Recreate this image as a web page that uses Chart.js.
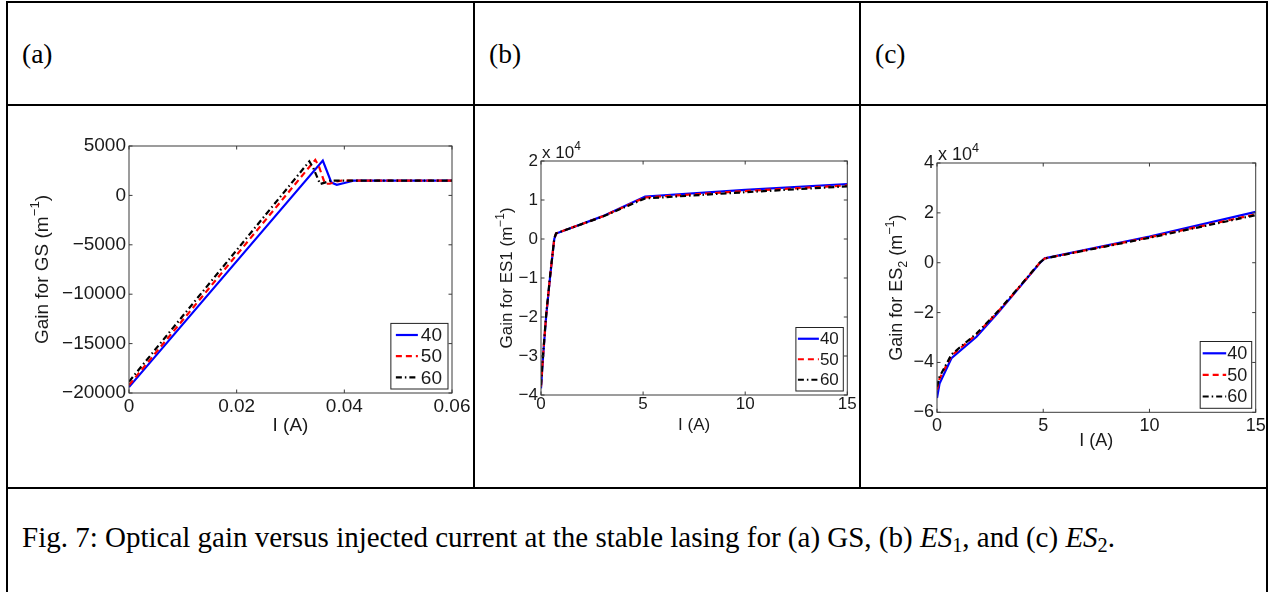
<!DOCTYPE html>
<html>
<head>
<meta charset="utf-8">
<script src="https://cdn.jsdelivr.net/npm/chart.js@4.4.1/dist/chart.umd.min.js"></script>
<style>
  html, body { margin: 0; padding: 0; background: #fff; }
  body { width: 1273px; height: 592px; position: relative; overflow: hidden;
         font-family: "Liberation Serif", "Times New Roman", serif; color: #000; }
  .ln { position: absolute; background: #000; }
  .lbl { position: absolute; font-size: 27.5px; line-height: 27.5px; white-space: nowrap; }
  .cap { font-size: 29px; line-height: 29px; }
  .lbl sub { font-size: 0.7em; vertical-align: -0.25em; line-height: 0; }
  canvas { position: absolute; }
</style>
</head>
<body>
<!-- table rules -->
<div class="ln" style="left:6px;top:1px;width:1262px;height:2px"></div>
<div class="ln" style="left:6px;top:1px;width:2px;height:591px"></div>
<div class="ln" style="left:1266px;top:1px;width:2px;height:591px"></div>
<div class="ln" style="left:6px;top:104px;width:1262px;height:2px"></div>
<div class="ln" style="left:6px;top:487px;width:1262px;height:2px"></div>
<div class="ln" style="left:473px;top:1px;width:2px;height:488px"></div>
<div class="ln" style="left:859px;top:1px;width:2px;height:488px"></div>

<div class="lbl" style="left:22px;top:40px">(a)</div>
<div class="lbl" style="left:489px;top:40px">(b)</div>
<div class="lbl" style="left:875px;top:40px">(c)</div>

<canvas id="chartA" width="463" height="379" style="left:9px;top:107px;width:463px;height:379px"></canvas>
<canvas id="chartB" width="384" height="379" style="left:475px;top:107px;width:384px;height:379px"></canvas>
<canvas id="chartC" width="405" height="379" style="left:861px;top:107px;width:405px;height:379px"></canvas>

<div class="lbl cap" style="left:22px;top:523px">Fig. 7: Optical gain versus injected current at the stable lasing for (a) GS, (b) <i>ES</i><sub>1</sub>, and (c) <i>ES</i><sub>2</sub>.</div>

<script>
'use strict';

// series legend labels and line styles (MATLAB b-, r--, k-.)
const seriesLabels = ['40', '50', '60'];
const lineColors = ['#0000ff', '#ff0000', '#000000'];
const lineDashes = [[], [6, 4], [6, 3, 1.5, 3]];

// (a) gain for GS vs current (A), m^-1
const gsI40 = [0, 0.0360, 0.0376, 0.0386, 0.0400, 0.0417, 0.060];
const gsG40 = [-19400, 3530, 1300, 1080, 1250, 1500, 1500];
const gsI50 = [0, 0.0346, 0.0353, 0.0364, 0.0373, 0.0385, 0.0395, 0.060];
const gsG50 = [-19200, 3600, 2900, 1180, 1180, 1400, 1500, 1500];
const gsI60 = [0, 0.0335, 0.0342, 0.0355, 0.0367, 0.0375, 0.060];
const gsG60 = [-18850, 3450, 2800, 1150, 1350, 1500, 1500];

// (b) gain for ES1
const es1I = [0, 0.1, 0.25, 0.44, 0.65, 0.74, 3, 5.1, 10, 15];
const es1G40 = [-38300, -30300, -20000, -10000, 0, 1400, 5800, 10900, 12600, 14100];
const es1G50 = [-37800, -30000, -19800, -9800, 100, 1450, 5750, 10650, 12300, 13750];
const es1G60 = [-37500, -29700, -19600, -9700, 150, 1450, 5700, 10400, 12000, 13500];

// (c) gain for ES2
const es2I = [0, 0.12, 0.68, 1.86, 2.88, 3.87, 4.85, 5.07, 10, 15];
const es2G40 = [-54300, -48500, -38300, -29700, -20000, -10000, 0, 1750, 10500, 20400];
const es2G50 = [-51000, -46500, -37300, -28700, -19600, -9800, 100, 1700, 10200, 19400];
const es2G60 = [-49700, -45800, -36800, -28400, -19400, -9700, 150, 1700, 10000, 19100];

// tick values
const gsXTicks = [0, 0.02, 0.04, 0.06];
const gsYTicks = [-20000, -15000, -10000, -5000, 0, 5000];
const esXTicks = [0, 5, 10, 15];
const es1YTicks = [-40000, -30000, -20000, -10000, 0, 10000, 20000];
const es2YTicks = [-60000, -40000, -20000, 0, 20000, 40000];

const axisFont = '"Liberation Sans", Arial, Helvetica, sans-serif';
const textColor = '#1a1a1a';

Chart.defaults.font.family = axisFont;
Chart.defaults.color = textColor;

function minus(v) {
    return v < 0 ? '\u2212' + Math.abs(v) : String(v);
}

function setFont(ctx, size) {
    ctx.font = size + 'px ' + axisFont;
}

function richWidth(ctx, parts, size) {
    let w = 0;
    parts.forEach(p => {
        setFont(ctx, (p.sup || p.sub) ? size * 0.7 : size);
        w += ctx.measureText(p.t).width;
    });
    return w;
}

function drawRich(ctx, parts, x, baseline, size) {
    parts.forEach(p => {
        const s = (p.sup || p.sub) ? size * 0.7 : size;
        const dy = p.sup ? -size * 0.45 : (p.sub ? size * 0.25 : 0);
        setFont(ctx, s);
        ctx.fillText(p.t, x, baseline + dy);
        x += ctx.measureText(p.t).width;
    });
}

// MATLAB style box, inner ticks, titles and legend
const matlabLook = {
    id: 'matlabLook',
    afterDatasetsDraw(chart, args, o) {
        const {ctx, chartArea: a} = chart;
        const xs = chart.scales.x;
        const ys = chart.scales.y;
        const tl = o.tickLen;
        ctx.save();
        ctx.strokeStyle = '#3a3a3a';
        ctx.lineWidth = 1;
        ctx.setLineDash([]);
        ctx.beginPath();
        xs.ticks.forEach(t => {
            const p = xs.getPixelForValue(t.value);
            ctx.moveTo(p, a.bottom); ctx.lineTo(p, a.bottom - tl);
            ctx.moveTo(p, a.top); ctx.lineTo(p, a.top + tl);
        });
        ys.ticks.forEach(t => {
            const p = ys.getPixelForValue(t.value);
            ctx.moveTo(a.left, p); ctx.lineTo(a.left + tl, p);
            ctx.moveTo(a.right, p); ctx.lineTo(a.right - tl, p);
        });
        ctx.stroke();
        ctx.strokeRect(a.left, a.top, a.right - a.left, a.bottom - a.top);
        ctx.restore();
    },
    afterDraw(chart, args, o) {
        const {ctx, chartArea: a} = chart;
        const fs = o.fontSize;
        ctx.save();
        ctx.fillStyle = textColor;
        ctx.textBaseline = 'alphabetic';

        // x title
        setFont(ctx, fs);
        ctx.textAlign = 'center';
        ctx.fillText(o.xTitle, (a.left + a.right) / 2, a.bottom + o.xTitleOffset);
        ctx.textAlign = 'left';

        // y title, rotated
        const w = richWidth(ctx, o.yTitle, fs);
        ctx.save();
        ctx.translate(a.left + o.yTitleOffset, (a.top + a.bottom) / 2);
        ctx.rotate(-Math.PI / 2);
        drawRich(ctx, o.yTitle, -w / 2, 0, fs);
        ctx.restore();

        // x 10^4 multiplier
        if (o.exponent) {
            drawRich(ctx, o.exponent, a.left + 1, a.top - 3, fs);
        }

        // legend box in the lower right corner
        const L = o.legend;
        const sets = chart.data.datasets;
        setFont(ctx, fs);
        const textW = Math.max(...sets.map(d => ctx.measureText(d.label).width));
        const bw = L.sampleLeft + L.sampleLen + L.gap + textW + L.right;
        const bh = L.rowH * sets.length + 2;
        const bx = a.right - L.inset - bw;
        const by = a.bottom - L.inset - bh;
        ctx.fillStyle = '#fff';
        ctx.fillRect(bx, by, bw, bh);
        ctx.strokeStyle = '#222';
        ctx.lineWidth = 1;
        ctx.strokeRect(bx, by, bw, bh);
        sets.forEach((d, i) => {
            const cy = by + 1 + L.rowH * (i + 0.5);
            ctx.beginPath();
            ctx.strokeStyle = d.borderColor;
            ctx.lineWidth = d.borderWidth;
            ctx.setLineDash(d.borderDash || []);
            ctx.moveTo(bx + L.sampleLeft, cy);
            ctx.lineTo(bx + L.sampleLeft + L.sampleLen, cy);
            ctx.stroke();
            ctx.setLineDash([]);
            ctx.fillStyle = textColor;
            ctx.textBaseline = 'middle';
            ctx.fillText(d.label, bx + L.sampleLeft + L.sampleLen + L.gap, cy + 1);
        });
        ctx.restore();
    }
};

function buildChart(canvasId, series, cfg) {
    const datasets = series.map((s, i) => ({
        label: seriesLabels[i],
        data: s.x.map((v, k) => ({x: v, y: s.y[k]})),
        borderColor: lineColors[i],
        borderDash: lineDashes[i],
        borderWidth: 2.2,
        pointRadius: 0,
        tension: 0,
        fill: false,
        order: 3 - i
    }));

    const fontOpt = {size: cfg.fontSize, lineHeight: 1};

    return new Chart(document.getElementById(canvasId), {
        type: 'line',
        data: {datasets: datasets},
        plugins: [matlabLook],
        options: {
            responsive: false,
            animation: false,
            devicePixelRatio: 1,
            layout: {padding: {left: 0, top: cfg.pad.top, right: cfg.pad.right, bottom: 0}},
            plugins: {
                legend: {display: false},
                tooltip: {enabled: false},
                matlabLook: {
                    fontSize: cfg.fontSize,
                    tickLen: 3.5,
                    xTitle: 'I (A)',
                    xTitleOffset: cfg.xTitleOffset,
                    yTitle: cfg.yTitle,
                    yTitleOffset: cfg.yTitleOffset,
                    exponent: cfg.exponent,
                    legend: cfg.legend
                }
            },
            scales: {
                x: {
                    type: 'linear',
                    min: cfg.xTicks[0],
                    max: cfg.xTicks[cfg.xTicks.length - 1],
                    afterBuildTicks: scale => { scale.ticks = cfg.xTicks.map(v => ({value: v})); },
                    grid: {display: false, drawTicks: false},
                    border: {display: false},
                    ticks: {
                        font: fontOpt,
                        padding: cfg.xTickPad,
                        maxRotation: 0,
                        autoSkip: false,
                        callback: v => minus(parseFloat(v.toFixed(4)))
                    },
                    afterFit: scale => {
                        scale.height = cfg.pad.bottom;
                        scale.paddingLeft = 0;
                        scale.paddingRight = 0;
                    }
                },
                y: {
                    type: 'linear',
                    min: cfg.yTicks[0],
                    max: cfg.yTicks[cfg.yTicks.length - 1],
                    afterBuildTicks: scale => { scale.ticks = cfg.yTicks.map(v => ({value: v})); },
                    grid: {display: false, drawTicks: false},
                    border: {display: false},
                    ticks: {
                        font: fontOpt,
                        padding: 3,
                        autoSkip: false,
                        callback: v => minus(parseFloat((v / cfg.yDiv).toFixed(4)))
                    },
                    afterFit: scale => {
                        scale.width = cfg.pad.left;
                        scale.paddingTop = 0;
                        scale.paddingBottom = 0;
                    }
                }
            }
        }
    });
}

buildChart('chartA', [
    {x: gsI40, y: gsG40}, {x: gsI50, y: gsG50}, {x: gsI60, y: gsG60}
], {
    fontSize: 19,
    pad: {left: 120, top: 39, right: 20, bottom: 93},
    xTicks: gsXTicks, yTicks: gsYTicks, yDiv: 1,
    xTickPad: 4, xTitleOffset: 38, yTitleOffset: -81,
    yTitle: [{t: 'Gain for GS (m'}, {t: '\u22121', sup: true}, {t: ')'}],
    exponent: null,
    legend: {rowH: 21.2, sampleLeft: 5, sampleLen: 22, gap: 3, right: 6, inset: 4}
});

buildChart('chartB', [
    {x: es1I, y: es1G40}, {x: es1I, y: es1G50}, {x: es1I, y: es1G60}
], {
    fontSize: 17,
    pad: {left: 66, top: 54, right: 11.7, bottom: 91},
    xTicks: esXTicks, yTicks: es1YTicks, yDiv: 1e4,
    xTickPad: 0.6, xTitleOffset: 35, yTitleOffset: -29,
    yTitle: [{t: 'Gain for ES1 (m'}, {t: '\u22121', sup: true}, {t: ')'}],
    exponent: [{t: 'x 10'}, {t: '4', sup: true}],
    legend: {rowH: 20.5, sampleLeft: 2, sampleLen: 21, gap: 1, right: 4.5, inset: 4}
});

buildChart('chartC', [
    {x: es2I, y: es2G40}, {x: es2I, y: es2G50}, {x: es2I, y: es2G60}
], {
    fontSize: 18,
    pad: {left: 76, top: 56, right: 10.3, bottom: 73.7},
    xTicks: esXTicks, yTicks: es2YTicks, yDiv: 1e4,
    xTickPad: 5, xTitleOffset: 34, yTitleOffset: -35,
    yTitle: [{t: 'Gain for ES'}, {t: '2', sub: true}, {t: ' (m'}, {t: '\u22121', sup: true}, {t: ')'}],
    exponent: [{t: 'x 10'}, {t: '4', sup: true}],
    legend: {rowH: 21.6, sampleLeft: 2.5, sampleLen: 23.5, gap: 1, right: 4.5, inset: 4}
});
</script>
</body>
</html>
